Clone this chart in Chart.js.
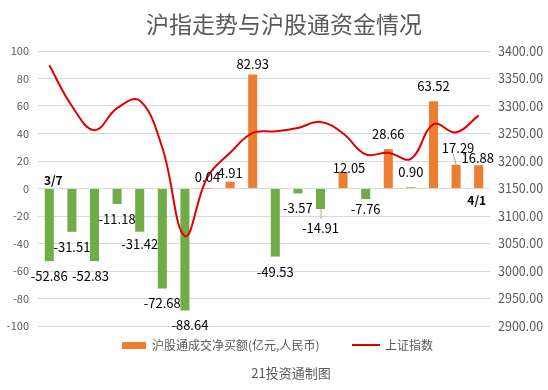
<!DOCTYPE html>
<html lang="zh">
<head>
<meta charset="UTF-8">
<title>沪指走势与沪股通资金情况</title>
<script src="https://cdn.jsdelivr.net/npm/chart.js@4/dist/chart.umd.min.js"></script>
<style>
  html, body { margin: 0; padding: 0; background: #fff; }
  #wrap { width: 548px; height: 390px; position: relative; }
</style>
</head>
<body>
<div id="wrap"><canvas id="c" width="548" height="390"></canvas></div>
<script>
// 日期 (交易日)
const dates = ['3/7', '3/8', '3/9', '3/10', '3/11', '3/14', '3/15', '3/16', '3/17', '3/18',
               '3/21', '3/22', '3/23', '3/24', '3/25', '3/28', '3/29', '3/30', '3/31', '4/1'];
// 沪股通成交净买额(亿元,人民币)
const netBuy = [-52.86, -31.51, -52.83, -11.18, -31.42, -72.68, -88.64, 0.04, 4.91, 82.93,
                -49.53, -3.57, -14.91, 12.05, -7.76, 28.66, 0.90, 63.52, 17.29, 16.88];
// 上证指数
const shIndex = [3374, 3300, 3256, 3296, 3310, 3224, 3064, 3171, 3215, 3251,
                 3254, 3260, 3271, 3250, 3212, 3215, 3204, 3267, 3252, 3283];
const leftTicks = [-100, 100, 20];
const rightTicks = [2900, 3400, 50];

const GREEN = '#70ad47';
const ORANGE = '#ed7d31';
const RED = '#e00000';
const GREY = '#595959';
const FONT = '"Noto Sans CJK SC", "Noto Sans", sans-serif';

// 手动挪过的标签 (和原图一样): 下标 -> [dx, dy]
const nudge = { 2: [-4, 0], 4: [0, -3], 6: [5, 0], 7: [0, 4], 8: [0, 6], 9: [0, 5],
                12: [0, 4], 13: [6, 11], 14: [0, -5], 18: [2, -2], 19: [-1, 8] };

const overlay = {
  id: 'overlay',
  afterDatasetsDraw(chart) {
    const ctx = chart.ctx;
    const x = chart.scales.x;
    const y = chart.scales.y;
    const zero = y.getPixelForValue(0);
    ctx.save();
    // 引导线
    ctx.strokeStyle = '#a6a6a6';
    ctx.lineWidth = 1;
    ctx.beginPath();
    let bx = x.getPixelForValue(12), by = y.getPixelForValue(netBuy[12]);
    ctx.moveTo(bx + 0.5, by);
    ctx.lineTo(bx + 0.5, by + 10);
    bx = x.getPixelForValue(18); by = y.getPixelForValue(netBuy[18]);
    ctx.moveTo(bx, by);
    ctx.lineTo(bx - 3, by - 11);
    ctx.stroke();
    // 数据标签
    ctx.font = '13px ' + FONT;
    ctx.fillStyle = '#000';
    ctx.textAlign = 'center';
    ctx.textBaseline = 'middle';
    netBuy.forEach((v, i) => {
      const [dx, dy] = nudge[i] || [0, 0];
      const px = x.getPixelForValue(i);
      const py = y.getPixelForValue(v);
      ctx.fillText(v.toFixed(2), px + dx, (v < 0 ? py + 15 : py - 15) + dy);
    });
    // 首尾日期
    ctx.font = 'bold 12px ' + FONT;
    ctx.fillText(dates[0], x.getPixelForValue(0) + 4, zero - 8);
    ctx.fillText(dates[dates.length - 1], x.getPixelForValue(dates.length - 1) - 2, zero + 12);
    ctx.restore();
  },
  afterDraw(chart) {
    const ctx = chart.ctx;
    ctx.save();
    ctx.fillStyle = GREY;
    ctx.textBaseline = 'middle';
    // 标题
    ctx.font = '23px ' + FONT;
    ctx.textAlign = 'center';
    ctx.fillText('沪指走势与沪股通资金情况', 284, 24);
    // 图例
    ctx.fillStyle = ORANGE;
    ctx.fillRect(122, 342, 24, 7);
    ctx.fillStyle = GREY;
    ctx.font = '12px ' + FONT;
    ctx.textAlign = 'left';
    ctx.fillText('沪股通成交净买额(亿元,人民币)', 152, 345);
    ctx.strokeStyle = RED;
    ctx.lineWidth = 2;
    ctx.beginPath();
    ctx.moveTo(352, 345);
    ctx.lineTo(380, 345);
    ctx.stroke();
    ctx.fillText('上证指数', 385, 345);
    // 来源
    ctx.font = '13px ' + FONT;
    ctx.textAlign = 'center';
    ctx.fillText('21投资通制图', 291, 373);
    ctx.restore();
  }
};

new Chart(document.getElementById('c'), {
  data: {
    labels: dates,
    datasets: [
      {
        type: 'line',
        label: '上证指数',
        data: shIndex,
        yAxisID: 'y1',
        borderColor: RED,
        borderWidth: 2,
        pointRadius: 0,
        tension: 0.4,
        order: 0
      },
      {
        type: 'bar',
        label: '沪股通成交净买额(亿元,人民币)',
        data: netBuy,
        yAxisID: 'y',
        backgroundColor: netBuy.map(v => v < 0 ? GREEN : ORANGE),
        categoryPercentage: 1,
        barPercentage: 0.4,
        order: 1
      }
    ]
  },
  options: {
    responsive: false,
    animation: false,
    layout: { padding: { top: 51, bottom: 64, left: 0, right: 0 } },
    plugins: {
      legend: { display: false },
      title: { display: false },
      tooltip: { enabled: false }
    },
    scales: {
      x: { display: false },
      y: {
        position: 'left',
        min: leftTicks[0],
        max: leftTicks[1],
        afterFit(s) { s.width = 38; },
        border: { display: false },
        grid: { color: '#d9d9d9', drawTicks: false },
        ticks: {
          stepSize: leftTicks[2],
          padding: 9,
          color: GREY,
          font: { size: 11, family: FONT }
        }
      },
      y1: {
        position: 'right',
        min: rightTicks[0],
        max: rightTicks[1],
        afterFit(s) { s.width = 58; },
        border: { display: false },
        grid: { display: false, drawTicks: false },
        ticks: {
          stepSize: rightTicks[2],
          padding: 8,
          color: GREY,
          font: { size: 12.5, family: FONT },
          callback: v => v.toFixed(2)
        }
      }
    }
  },
  plugins: [overlay]
});
</script>
</body>
</html>
